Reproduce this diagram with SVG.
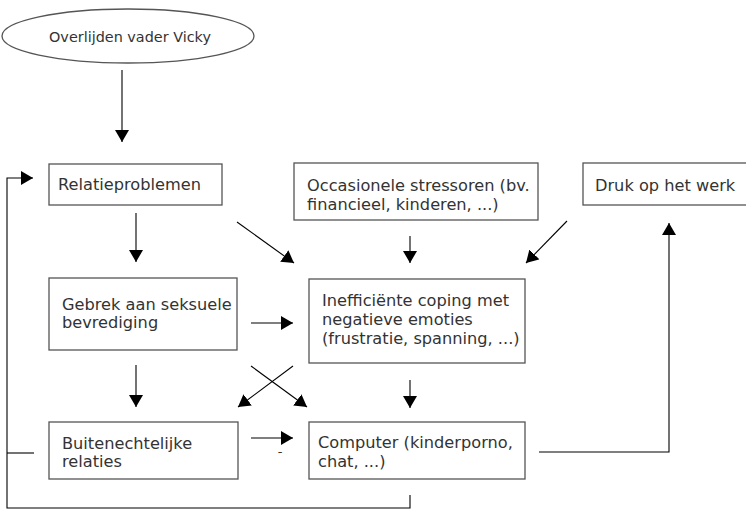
<svg xmlns="http://www.w3.org/2000/svg" width="746" height="511" viewBox="0 0 746 511">
<style>
.box{fill:#fff;stroke:#555;stroke-width:1.3}
.t{font-family:"DejaVu Sans","Liberation Sans",sans-serif;font-size:16.2px;fill:#333}
.c{fill:none;stroke:#000;stroke-width:1.1}
</style>
<defs>
<marker id="ah" markerUnits="userSpaceOnUse" markerWidth="13" markerHeight="15" refX="12" refY="7" orient="auto">
<path d="M0,0 L12,7 L0,14 z" fill="#000"/>
</marker>
</defs>
<rect width="746" height="511" fill="#fff"/>
<g id="n-overlijden">
<ellipse cx="128" cy="36" rx="126" ry="27" class="box"/>
<text x="130" y="42" class="t" text-anchor="middle" style="font-size:14.4px">Overlijden vader Vicky</text>
</g>
<g id="n-relatie">
<rect x="49" y="164" width="173" height="41" class="box"/>
<text x="58" y="190" class="t">Relatieproblemen</text>
</g>
<g id="n-occasionele">
<rect x="294" y="163" width="244" height="57" class="box"/>
<text x="307" y="191" class="t">Occasionele stressoren (bv.</text>
<text x="307" y="210" class="t">financieel, kinderen, ...)</text>
</g>
<g id="n-druk">
<rect x="583" y="163" width="170" height="42" class="box"/>
<text x="595" y="191" class="t">Druk op het werk</text>
</g>
<g id="n-gebrek">
<rect x="49" y="278" width="188" height="72" class="box"/>
<text x="62" y="310" class="t">Gebrek aan seksuele</text>
<text x="62" y="328" class="t">bevrediging</text>
</g>
<g id="n-inefficient">
<rect x="309" y="279" width="216" height="84" class="box"/>
<text x="322" y="306" class="t">Inefficiënte coping met</text>
<text x="322" y="325" class="t">negatieve emoties</text>
<text x="322" y="344" class="t">(frustratie, spanning, ...)</text>
</g>
<g id="n-buiten">
<rect x="49" y="422" width="189" height="57" class="box"/>
<text x="62" y="449" class="t">Buitenechtelijke</text>
<text x="62" y="467" class="t">relaties</text>
</g>
<g id="n-computer">
<rect x="309" y="422" width="216" height="57" class="box"/>
<text x="318" y="448" class="t">Computer (kinderporno,</text>
<text x="318" y="467" class="t">chat, ...)</text>
</g>
<g id="connectors">
<path class="c" d="M122,70 L122,142" marker-end="url(#ah)"/>
<path class="c" d="M136,213 L136,262" marker-end="url(#ah)"/>
<path class="c" d="M237,222 L294,263" marker-end="url(#ah)"/>
<path class="c" d="M410,236 L410,263" marker-end="url(#ah)"/>
<path class="c" d="M567,221 L526,263" marker-end="url(#ah)"/>
<path class="c" d="M251,323 L293,323" marker-end="url(#ah)"/>
<path class="c" d="M136,365 L136,407" marker-end="url(#ah)"/>
<path class="c" d="M251,366 L307,407" marker-end="url(#ah)"/>
<path class="c" d="M293,366 L238,407" marker-end="url(#ah)"/>
<path class="c" d="M410,380 L410,408" marker-end="url(#ah)"/>
<path class="c" d="M251,438 L293,438" marker-end="url(#ah)"/>
<text x="280" y="456" class="t" text-anchor="middle" style="font-size:13px">-</text>
<path class="c" d="M539,452 L669,452 L669,223" marker-end="url(#ah)"/>
<path class="c" d="M410,495 L410,508 L7,508 L7,178 L33,178" marker-end="url(#ah)"/>
<path class="c" d="M7,453 L34,453"/>
</g>
</svg>
